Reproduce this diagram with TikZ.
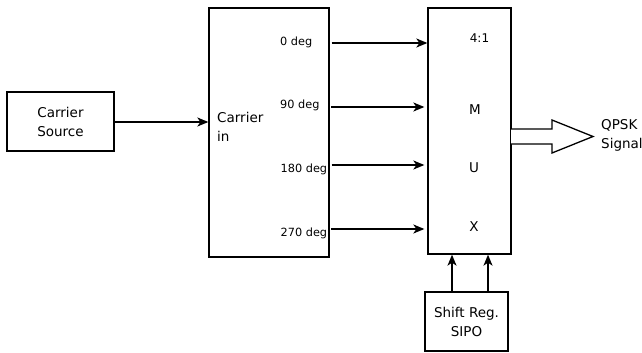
\documentclass[tikz,border=0pt]{standalone}
\usepackage{fontspec}
\setmainfont{DejaVu Sans}
\usetikzlibrary{arrows.meta,calc}
\begin{document}
\begin{tikzpicture}[x=1pt,y=-1pt,
  blk/.style={draw,line width=1.3pt,minimum width=#1},
  lbl/.style={font=\fontsize{13.5}{19}\selectfont,inner sep=0pt},
  deglbl/.style={font=\fontsize{11.3}{13}\selectfont,inner sep=0pt,anchor=west},
  conn/.style={line width=1.4pt,-{Stealth[length=11pt,width=9pt,inset=3pt]}},
  bigarrow/.style={draw,line width=1.3pt,fill=white,line join=miter}]
\useasboundingbox (0,0) rectangle (642,353);
% boxes
\node[blk=107pt,minimum height=59pt] (src) at (60.5,121.5) {};
\node[blk=120pt,minimum height=249pt] (ph) at (269,132.5) {};
\node[blk=83pt,minimum height=246pt] (mux) at (469.5,131) {};
\node[blk=83pt,minimum height=59pt] (sr) at (466.5,321.5) {};
% texts
\node[lbl,align=center] (srct) at (src.center) {Carrier\\Source};
\node[lbl,align=left,anchor=west] (cin) at (217,127) {Carrier\\in};
\node[lbl,align=center] (srt) at (sr.center) {Shift Reg.\\SIPO};
\node[lbl,align=left,anchor=west] (qpsk) at (601,135) {QPSK\\Signal};
\node[deglbl] (d0) at (280,42) {0 deg};
\node[deglbl] (d90) at (280,105) {90 deg};
\node[deglbl] (d180) at (280.5,169) {180 deg};
\node[deglbl] (d270) at (280.5,233) {270 deg};
\node[font=\fontsize{12}{13}\selectfont,inner sep=0pt] (m41) at (479.5,38) {4:1};
\node[lbl] (mm) at (475,110) {M};
\node[lbl] (mu) at (474,168) {U};
\node[lbl] (mx) at (474,227) {X};
% connectors
\coordinate (sa) at (114,122);
\draw[conn] (sa) -- (sa -| ph.west);
\coordinate (a0) at (331.5,43);
\coordinate (a1) at (331,107);
\coordinate (a2) at (331.5,165);
\coordinate (a3) at (331,229);
\draw[conn] (a0) -- (a0 -| mux.west);
\draw[conn] (a1) -- ($(a1 -| mux.west)+(-3,0)$);
\draw[conn] (a2) -- ($(a2 -| mux.west)+(-3,0)$);
\draw[conn] (a3) -- ($(a3 -| mux.west)+(-3,0)$);
\coordinate (s1) at (452,0);
\coordinate (s2) at (488,0);
\draw[conn] (s1 |- sr.north) -- (s1 |- mux.south);
\draw[conn] (s2 |- sr.north) -- (s2 |- mux.south);
% QPSK output arrow
\coordinate (qa) at (511,136.5);
\draw[bigarrow] ($(qa)+(0,-7.5)$) -- ($(qa)+(41,-7.5)$) -- ($(qa)+(41,-16.5)$)
  -- ($(qa)+(82,0)$) -- ($(qa)+(41,16.5)$) -- ($(qa)+(41,7.5)$) -- ($(qa)+(0,7.5)$);
\end{tikzpicture}
\end{document}
